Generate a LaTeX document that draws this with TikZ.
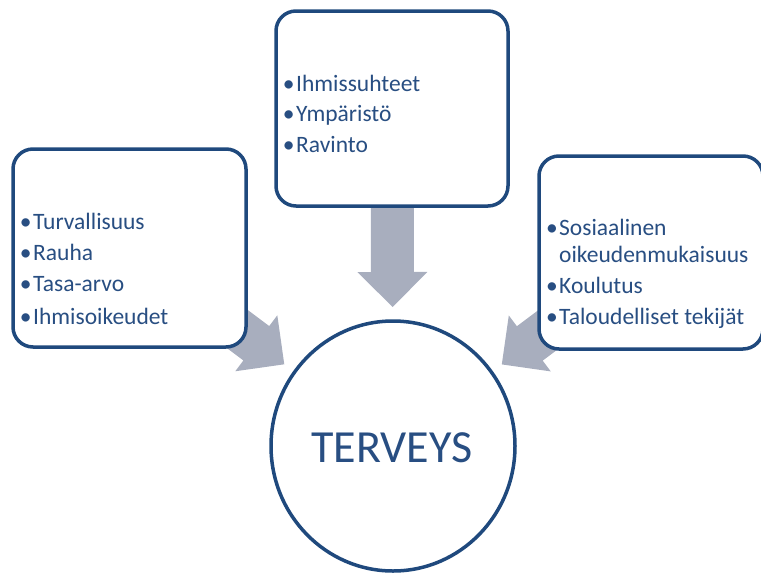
\documentclass[tikz,border=0pt]{standalone}
\usepackage{fontspec}
\setmainfont{Carlito}
\usetikzlibrary{calc,shapes.geometric}
\definecolor{bcol}{RGB}{31,73,125}
\definecolor{tcol}{RGB}{40,78,130}
\definecolor{acol}{RGB}{168,174,190}
\pgfdeclarelayer{background}
\pgfsetlayers{background,main}
\newcommand\blockarr[4]{%
  \path ($(#2.center)!#3!(#1.center)$) coordinate (#1tip)
        ($(#2.center)!#4!(#1.center)$) coordinate (#1hb);
  \fill[acol] (#1tip) -- ($(#1hb)!35pt!90:(#2.center)$) -- ($(#1hb)!21.5pt!90:(#2.center)$)
    -- ($(#1.center)!21.5pt!90:(#2.center)$) -- ($(#1.center)!21.5pt!-90:(#2.center)$)
    -- ($(#1hb)!21.5pt!-90:(#2.center)$) -- ($(#1hb)!35pt!-90:(#2.center)$) -- cycle;
}
\newcommand\bul{\llap{•\kern1.5pt}}
\begin{document}
\begin{tikzpicture}[x=1pt,y=-1pt,
  box/.style={draw=bcol, fill=white, line width=3.5pt, rounded corners=20pt, inner sep=0pt},
  txt/.style={anchor=base west, inner sep=0pt, text=tcol, font=\fontsize{23.5}{27}\selectfont},
  big/.style={anchor=base, inner sep=0pt, text=tcol, font=\fontsize{46}{50}\selectfont}]
\useasboundingbox (0,0) rectangle (761,576);
% boxes
\node[box, minimum width=233pt, minimum height=198pt] (L) at (129.5,248) {};
\node[box, minimum width=232pt, minimum height=195pt] (T) at (392,108.5) {};
\node[box, minimum width=224pt, minimum height=193pt] (R) at (651,252.5) {};
\node[ellipse, draw=bcol, fill=white, line width=3.5pt, minimum width=244pt, minimum height=250pt, inner sep=0pt] (C) at (393,446) {};
% arrows
\begin{pgfonlayer}{background}
\blockarr{T}{C}{139pt}{174pt}
\blockarr{L}{C}{136pt}{171pt}
\blockarr{R}{C}{136pt}{171pt}
\end{pgfonlayer}
% texts
\node[txt] (t1) at (296,91) {\bul Ihmissuhteet};
\node[txt] (t2) at (296,121) {\bul Ympäristö};
\node[txt] (t3) at (296,152) {\bul Ravinto};
\node[txt] (l1) at (33,229) {\bul Turvallisuus};
\node[txt] (l2) at (33,260) {\bul Rauha};
\node[txt] (l3) at (33,291.5) {\bul Tasa-arvo};
\node[txt] (l4) at (33,324) {\bul Ihmisoikeudet};
\node[txt] (r1) at (559,235) {\bul Sosiaalinen};
\node[txt] (r2) at (559,262) {oikeudenmukaisuus};
\node[txt] (r3) at (559,293) {\bul Koulutus};
\node[txt] (r4) at (559,324.5) {\bul Taloudelliset tekijät};
\node[big] (hc) at (392,462) {TERVEYS};
\end{tikzpicture}
\end{document}
